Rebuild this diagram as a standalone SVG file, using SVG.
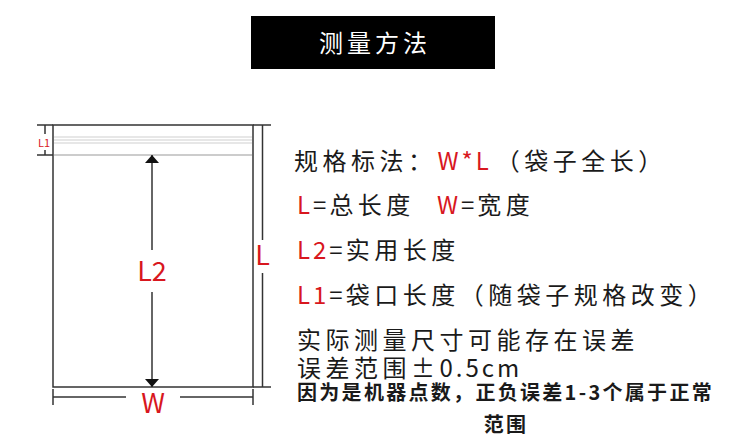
<svg xmlns="http://www.w3.org/2000/svg" width="750" height="436" viewBox="0 0 750 436">
<defs>
<style>
.t{font-family:"Noto Sans CJK SC","Noto Sans",sans-serif;fill:#1a1a1a;}
.r{fill:#d8171e;}
.lat{letter-spacing:3px;}
.big{font-size:24px;letter-spacing:4.5px;}
.dim{stroke:#333;stroke-width:1.5;fill:none;}
.zip{stroke:#cfcfcf;stroke-width:1;}
.lab{font-family:"Noto Sans CJK SC","Noto Sans",sans-serif;fill:#d8171e;text-anchor:middle;}
</style>
<marker id="ah" viewBox="0 0 8 16" refX="8" refY="8" markerWidth="8" markerHeight="16" markerUnits="userSpaceOnUse" orient="auto">
<path d="M0,1 L8,8 L0,15 Z" fill="#111"/>
</marker>
</defs>
<rect width="750" height="436" fill="#fff"/>
<g id="title">
<rect x="251" y="16" width="244" height="53" fill="#000"/>
<text x="375" y="52" class="t" font-size="24" letter-spacing="4" text-anchor="middle" style="fill:#fff">测量方法</text>
</g>
<g id="bag">
<rect x="53" y="125" width="200" height="262" class="dim"/>
<line x1="54" y1="137" x2="252" y2="137" class="zip"/>
<line x1="54" y1="140" x2="252" y2="140" class="zip"/>
<line x1="54" y1="143" x2="252" y2="143" class="zip"/>
<line x1="54" y1="155" x2="252" y2="155" stroke="#bbb" stroke-width="1.5"/>
</g>
<g id="connectors">
<line x1="152" y1="250" x2="152" y2="155" class="dim" marker-end="url(#ah)"/>
<line x1="152" y1="292" x2="152" y2="387" class="dim" marker-end="url(#ah)"/>
<line x1="45" y1="125" x2="45" y2="134" class="dim"/>
<line x1="45" y1="150" x2="45" y2="155" class="dim"/>
<line x1="37" y1="125" x2="53" y2="125" class="dim"/>
<line x1="37" y1="155" x2="53" y2="155" class="dim"/>
<line x1="262.5" y1="125" x2="262.5" y2="240" class="dim"/>
<line x1="262.5" y1="273" x2="262.5" y2="387" class="dim"/>
<line x1="253" y1="125" x2="271" y2="125" class="dim"/>
<line x1="253" y1="387" x2="271" y2="387" class="dim"/>
<line x1="53" y1="397" x2="126" y2="397" class="dim"/>
<line x1="180" y1="397" x2="253" y2="397" class="dim"/>
<line x1="53" y1="389" x2="53" y2="405" class="dim"/>
<line x1="253" y1="389" x2="253" y2="405" class="dim"/>
</g>
<g id="labels">
<text x="44" y="147" class="lab" font-size="11">L1</text>
<text x="152" y="281" class="lab" font-size="27">L2</text>
<text x="262.5" y="265" class="lab" font-size="27">L</text>
<text x="153" y="413" class="lab" font-size="27">W</text>
</g>
<g id="notes">
<text x="294" y="170" class="t big">规格标法：<tspan class="r lat" dx="1">W*L</tspan><tspan dx="4">（袋子全长）</tspan></text>
<text x="297" y="214" class="t big"><tspan class="r lat">L</tspan><tspan class="lat">=</tspan>总长度<tspan class="r lat" dx="22">W</tspan><tspan class="lat">=</tspan>宽度</text>
<text x="297" y="259" class="t big"><tspan class="r lat">L2</tspan><tspan class="lat">=</tspan>实用长度</text>
<text x="297" y="304" class="t big"><tspan class="r lat">L1</tspan><tspan class="lat">=</tspan>袋口长度（随袋子规格改变）</text>
<text x="297" y="349" class="t big">实际测量尺寸可能存在误差</text>
<text x="297" y="377" class="t big">误差范围±<tspan class="lat">0.5cm</tspan></text>
<text x="297" y="400" class="t" font-size="20" font-weight="bold" letter-spacing="2.3">因为是机器点数，正负误差1-3个属于正常</text>
<text x="506" y="432" class="t" font-size="20" font-weight="bold" letter-spacing="2.2" text-anchor="middle">范围</text>
</g>
</svg>
